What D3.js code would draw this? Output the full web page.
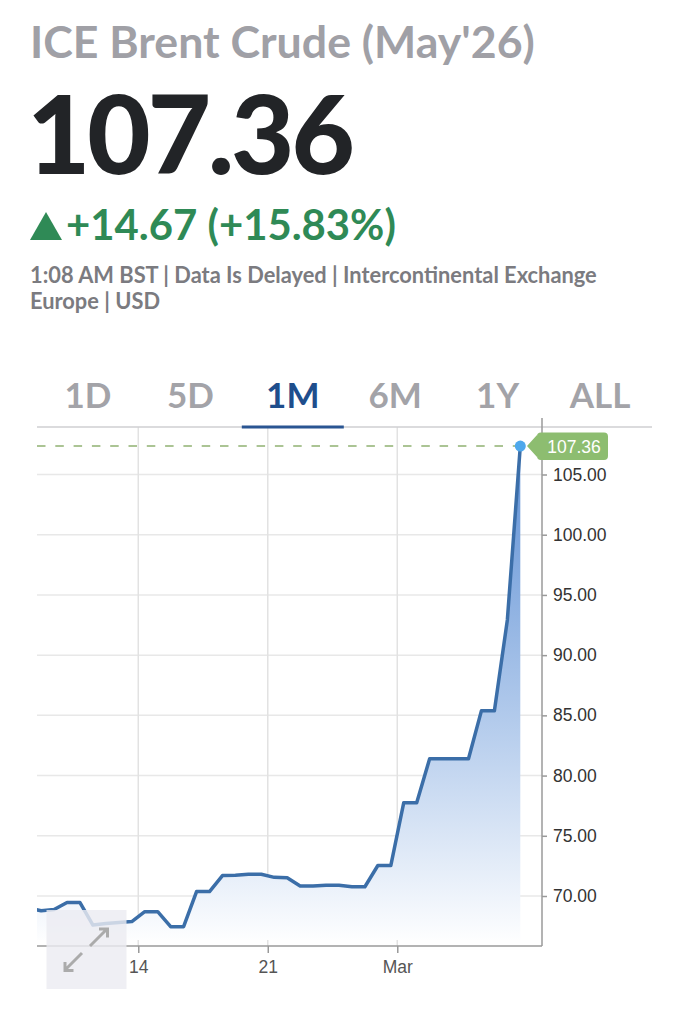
<!DOCTYPE html>
<html><head><meta charset="utf-8">
<script src="https://cdn.jsdelivr.net/npm/d3@7"></script>
<style>
html,body{margin:0;padding:0;background:#fff;}
svg{display:block;}
</style></head>
<body>
<svg id="chart" width="688" height="1024"></svg>
<script>
// ---- data ----
const titleText = "ICE Brent Crude (May'26)";
const lastPrice = "107.36";
const changeText = "+14.67 (+15.83%)";
const infoLines = ["1:08 AM BST | Data Is Delayed | Intercontinental Exchange", "Europe | USD"];
const tabs = ["1D", "5D", "1M", "6M", "1Y", "ALL"];
const activeTab = "1M";
const values = [69.00, 68.78, 68.88, 69.46, 69.46, 67.59, 67.72, 67.80, 67.88, 68.70,
                68.70, 67.45, 67.45, 70.37, 70.37, 71.70, 71.72, 71.80, 71.80, 71.55,
                71.52, 70.83, 70.83, 70.89, 70.89, 70.77, 70.77, 72.53, 72.53, 77.75,
                77.75, 81.40, 81.40, 81.40, 81.40, 85.39, 85.39, 92.92, 107.36];
const xTickPos = [8.5, 18.5, 28.5];
const xTickLabels = ["14", "21", "Mar"];
const yTicks = [70, 75, 80, 85, 90, 95, 100, 105];
const lastValue = 107.36;

// ---- layout ----
const svg = d3.select("#chart");
const plot = {left: 37, right: 542, top: 427, bottom: 946};
const headFont = "Lato, 'Open Sans', sans-serif";
const axisFont = "'Liberation Sans', Arial, sans-serif";

function fit(sel, w) {
  const n = sel.node();
  let fs = parseFloat(sel.attr("font-size"));
  const len = n.getComputedTextLength();
  sel.attr("font-size", (fs * w / len).toFixed(2));
}

// header
fit(svg.append("text").attr("x", 30).attr("y", 58).attr("font-family", headFont).attr("font-weight", 700)
  .attr("font-size", 40).attr("fill", "#a0a0a6").text(titleText), 505);
fit(svg.append("text").attr("x", 27).attr("y", 174).attr("font-family", headFont).attr("font-weight", 900)
  .attr("font-size", 110).attr("fill", "#222427").attr("letter-spacing", -3).text(lastPrice), 325);
svg.append("path").attr("d", "M30,240 L46,212 L62,240 Z").attr("fill", "#2f8a56");
fit(svg.append("text").attr("x", 66).attr("y", 240).attr("font-family", headFont).attr("font-weight", 700)
  .attr("font-size", 40).attr("fill", "#2f8a56").text(changeText), 330);
const infoW = [567, 130];
infoLines.forEach((t, i) => {
  fit(svg.append("text").attr("x", 30).attr("y", 283 + i * 26).attr("font-family", headFont).attr("font-weight", 700)
    .attr("font-size", 19).attr("fill", "#7b7b80").text(t), infoW[i]);
});

// tabs
const tabX = d3.scalePoint().domain(tabs).range([88, 600]);
tabs.forEach(t => {
  svg.append("text").attr("x", tabX(t)).attr("y", 408).attr("text-anchor", "middle")
    .attr("font-family", headFont).attr("font-weight", 700).attr("font-size", 35)
    .attr("fill", t === activeTab ? "#1f4e8c" : "#a3a3a8").text(t);
});

// scales
const x = d3.scaleLinear().domain([0, values.length - 1]).range([28.2, 520.3]);
const y = d3.scaleLinear().domain([70, 105]).range([896, 474.5]);

// gridlines
svg.append("g").selectAll("line").data(yTicks).join("line")
  .attr("x1", plot.left).attr("x2", plot.right).attr("y1", d => y(d)).attr("y2", d => y(d))
  .attr("stroke", "#e8e8e8").attr("stroke-width", 1.5);
svg.append("g").selectAll("line").data(xTickPos).join("line")
  .attr("x1", d => x(d)).attr("x2", d => x(d)).attr("y1", plot.top).attr("y2", plot.bottom)
  .attr("stroke", "#e2e2e2").attr("stroke-width", 1.5);

// top border and tab underline
svg.append("line").attr("x1", plot.left).attr("x2", 652).attr("y1", plot.top).attr("y2", plot.top)
  .attr("stroke", "#cfcfd2").attr("stroke-width", 1.5);
svg.append("line").attr("x1", tabX(activeTab) - 51).attr("x2", tabX(activeTab) + 51)
  .attr("y1", plot.top).attr("y2", plot.top).attr("stroke", "#2a5592").attr("stroke-width", 3);

// clip
const defs = svg.append("defs");
defs.append("clipPath").attr("id", "clip").append("rect")
  .attr("x", plot.left).attr("y", plot.top).attr("width", plot.right - plot.left).attr("height", plot.bottom - plot.top);
const grad = defs.append("linearGradient").attr("id", "areaGrad").attr("gradientUnits", "userSpaceOnUse")
  .attr("x1", 0).attr("x2", 0).attr("y1", y(lastValue)).attr("y2", plot.bottom);
grad.append("stop").attr("offset", 0).attr("stop-color", "#5d8fd4");
grad.append("stop").attr("offset", 0.55).attr("stop-color", "#b3cbec");
grad.append("stop").attr("offset", 1).attr("stop-color", "#ffffff");

const g = svg.append("g").attr("clip-path", "url(#clip)");
g.append("path").datum(values)
  .attr("d", d3.area().x((d, i) => x(i)).y0(plot.bottom - 6).y1(d => y(d)))
  .attr("fill", "url(#areaGrad)");

// dashed last-price line
svg.append("line").attr("x1", plot.left).attr("x2", x(values.length - 1)).attr("y1", y(lastValue)).attr("y2", y(lastValue))
  .attr("stroke", "#abc494").attr("stroke-width", 2).attr("stroke-dasharray", "8.5,9.8");

g.append("path").datum(values)
  .attr("d", d3.line().x((d, i) => x(i)).y(d => y(d)))
  .attr("fill", "none").attr("stroke", "#3b6ea8").attr("stroke-width", 3.5).attr("stroke-linejoin", "round");

// axes
const yAxis = d3.axisRight(y).tickValues(yTicks).tickFormat(d => d.toFixed(2)).tickSize(5).tickSizeOuter(0);
const ya = svg.append("g").attr("transform", `translate(${plot.right},0)`).call(yAxis);
ya.select(".domain").remove();
ya.selectAll(".tick line").attr("stroke", "#999").attr("stroke-width", 1.5);
ya.selectAll(".tick text").attr("font-family", axisFont).attr("font-size", 17.5).attr("fill", "#333").attr("x", 11);
svg.append("line").attr("x1", plot.right).attr("x2", plot.right).attr("y1", 418).attr("y2", plot.bottom)
  .attr("stroke", "#9a9a9a").attr("stroke-width", 1.5);

const xAxis = d3.axisBottom(x).tickValues(xTickPos).tickFormat((d, i) => xTickLabels[i]).tickSize(7).tickSizeOuter(0);
const xa = svg.append("g").attr("transform", `translate(0,${plot.bottom})`).call(xAxis);
xa.select(".domain").remove();
xa.selectAll(".tick line").attr("stroke", "#999").attr("stroke-width", 1.5);
xa.selectAll(".tick text").attr("font-family", axisFont).attr("font-size", 17.5).attr("fill", "#555").attr("y", 15);
svg.append("line").attr("x1", plot.left).attr("x2", plot.right).attr("y1", plot.bottom).attr("y2", plot.bottom)
  .attr("stroke", "#9a9a9a").attr("stroke-width", 1.5);

// last point dot
svg.append("circle").attr("cx", x(values.length - 1)).attr("cy", y(lastValue)).attr("r", 5.5).attr("fill", "#4ea8ec");

// price badge
const by = y(lastValue);
svg.append("path")
  .attr("d", `M527,${by} L537,${by - 11} L537,${by - 10} Q537,${by - 13.5} 541,${by - 13.5} L604,${by - 13.5} Q608,${by - 13.5} 608,${by - 9.5} L608,${by + 10} Q608,${by + 14} 604,${by + 14} L541,${by + 14} Q537,${by + 14} 537,${by + 10} L537,${by + 11} Z`)
  .attr("fill", "#8dbd70");
svg.append("text").attr("x", 574).attr("y", by + 6.5).attr("text-anchor", "middle")
  .attr("font-family", axisFont).attr("font-size", 17.5).attr("fill", "#fff").text(lastValue.toFixed(2));

// zoom overlay box
svg.append("rect").attr("x", 46.5).attr("y", 910).attr("width", 80).attr("height", 79)
  .attr("fill", "#ececf2").attr("opacity", 0.82);
const ar = svg.append("g").attr("stroke", "#ababab").attr("stroke-width", 3).attr("fill", "none").attr("stroke-linecap", "butt");
ar.append("path").attr("d", "M90,946 L107,929 M99,929 L107.5,929 L107.5,937.5");
ar.append("path").attr("d", "M82,953 L65,970 M65,962 L65,970.5 L73.5,970.5");
</script>
</body></html>
